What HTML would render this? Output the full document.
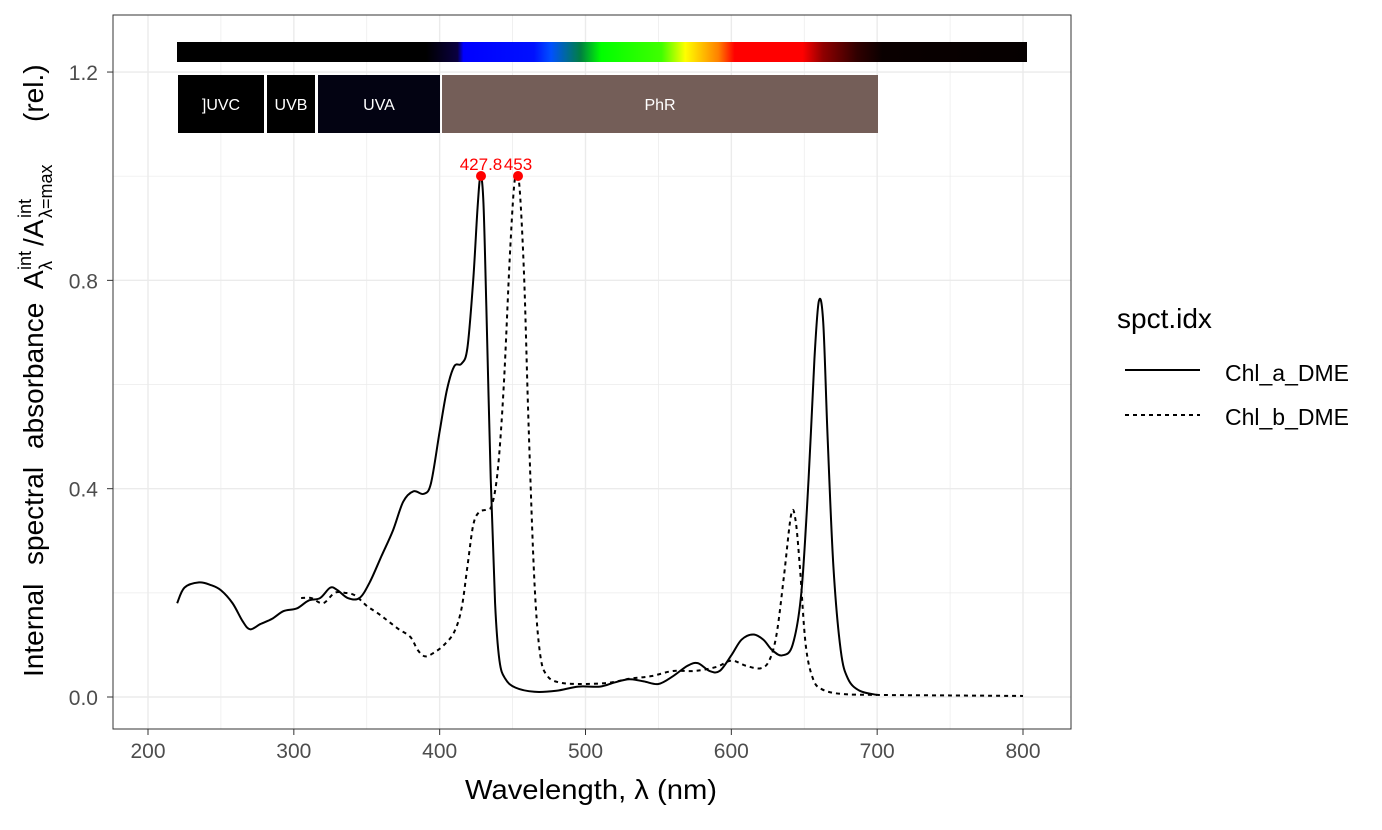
<!DOCTYPE html>
<html><head><meta charset="utf-8"><style>
body{margin:0;background:#fff}
svg text{font-family:"Liberation Sans",Arial,sans-serif}
</style></head><body>
<svg id="s" width="1382" height="825" xmlns="http://www.w3.org/2000/svg">
<defs>
<linearGradient id="spec" x1="177" x2="1027" gradientUnits="userSpaceOnUse">
<stop offset="0" stop-color="#000"/>
<stop offset="0.293" stop-color="#000"/>
<stop offset="0.33" stop-color="#0a0040"/>
<stop offset="0.337" stop-color="#0000ff"/>
<stop offset="0.42" stop-color="#0010ff"/>
<stop offset="0.44" stop-color="#0050ff"/>
<stop offset="0.475" stop-color="#008040"/>
<stop offset="0.499" stop-color="#00ff00"/>
<stop offset="0.57" stop-color="#40ff00"/>
<stop offset="0.598" stop-color="#ffff00"/>
<stop offset="0.637" stop-color="#ff8000"/>
<stop offset="0.656" stop-color="#ff0000"/>
<stop offset="0.736" stop-color="#ff0000"/>
<stop offset="0.76" stop-color="#900000"/>
<stop offset="0.80" stop-color="#300000"/>
<stop offset="0.83" stop-color="#0a0000"/>
<stop offset="1" stop-color="#050000"/>
</linearGradient>
</defs>
<rect x="113" y="15" width="958" height="714" fill="#fff"/>
<g id="grid"></g>
<rect x="177" y="42" width="850" height="20" fill="url(#spec)"/>
<rect x="178" y="75" width="86" height="58" fill="#000"/>
<rect x="267" y="75" width="48" height="58" fill="#000"/>
<rect x="318" y="75" width="122" height="58" fill="#030312"/>
<rect x="442" y="75" width="436" height="58" fill="#745e58"/>
<g fill="#fff" font-size="16" text-anchor="middle">
<text x="221" y="110">]UVC</text><text x="291" y="110">UVB</text><text x="379" y="110">UVA</text><text x="660" y="110">PhR</text>
</g>
<path id="a" fill="none" stroke="#000" stroke-width="2"/>
<path id="b" fill="none" stroke="#000" stroke-width="2" stroke-dasharray="4,4"/>
<circle cx="481" cy="176" r="5" fill="#f00"/>
<circle cx="518" cy="176" r="5" fill="#f00"/>
<text x="481" y="170" fill="#f00" font-size="17" text-anchor="middle">427.8</text>
<text x="518" y="170" fill="#f00" font-size="17" text-anchor="middle">453</text>
<rect x="113" y="15" width="958" height="714" fill="none" stroke="#333" stroke-width="1"/>
<g id="ticks" font-size="21" fill="#4d4d4d"></g>
<text x="591" y="799" font-size="28" text-anchor="middle" textLength="252" lengthAdjust="spacingAndGlyphs">Wavelength, λ (nm)</text>
<g font-size="28">
<text transform="translate(43,677) rotate(-90)">Internal</text>
<text transform="translate(43,565) rotate(-90)">spectral</text>
<text transform="translate(43,449) rotate(-90)">absorbance</text>
<text transform="translate(43,289) rotate(-90)">A</text>
<text transform="translate(43,246) rotate(-90)">/A</text>
<text transform="translate(43,122) rotate(-90)">(rel.)</text>
</g>
<g font-size="18">
<text transform="translate(31,270) rotate(-90)">int</text>
<text transform="translate(52,270) rotate(-90)">λ</text>
<text transform="translate(31,218) rotate(-90)">int</text>
<text transform="translate(52,218) rotate(-90)">λ=max</text>
</g>
<text x="1117" y="328" font-size="28">spct.idx</text>
<line x1="1125" y1="370" x2="1200" y2="370" stroke="#000" stroke-width="2"/>
<line x1="1125" y1="415" x2="1200" y2="415" stroke="#000" stroke-width="2" stroke-dasharray="4,4"/>
<text x="1225" y="381" font-size="23">Chl_a_DME</text>
<text x="1225" y="425" font-size="23">Chl_b_DME</text>
</svg>
<script>
const X=l=>148+(l-200)*875/600, Y=v=>697-v*520.8;
let g='',t='';
for(let l=200;l<=800;l+=50){const x=X(l);g+=`<line x1="${x}" y1="15" x2="${x}" y2="729" stroke="#ebebeb" stroke-width="${l%100?0.7:1.4}"/>`;
 if(l%100==0){t+=`<line x1="${x}" y1="729" x2="${x}" y2="735" stroke="#333"/><text x="${x}" y="758" text-anchor="middle">${l}</text>`;}}
for(let i=0;i<=6;i++){const v=i*0.2,y=Y(v);g+=`<line x1="113" y1="${y}" x2="1071" y2="${y}" stroke="#ebebeb" stroke-width="${i%2?0.7:1.4}"/>`;
 if(i%2==0){t+=`<line x1="107" y1="${y}" x2="113" y2="${y}" stroke="#333"/><text x="98" y="${y+8}" text-anchor="end">${v.toFixed(1)}</text>`;}}
document.getElementById('grid').innerHTML=g;document.getElementById('ticks').innerHTML=t;
function path(p){const q=p.map(([l,v])=>[X(l),Y(v)]);let d=`M${q[0][0]},${q[0][1]}`;
 for(let i=0;i<q.length-1;i++){const p0=q[Math.max(i-1,0)],p1=q[i],p2=q[i+1],p3=q[Math.min(i+2,q.length-1)];
 const k=1/6;d+=`C${p1[0]+(p2[0]-p0[0])*k},${p1[1]+(p2[1]-p0[1])*k} ${p2[0]-(p3[0]-p1[0])*k},${p2[1]-(p3[1]-p1[1])*k} ${p2[0]},${p2[1]}`;}return d;}
const A=[[220,0.18],[225,0.21],[235,0.22],[243,0.215],[250,0.205],[258,0.18],[265,0.145],[270,0.13],[277,0.14],[285,0.15],[293,0.165],[302,0.17],[310,0.185],[318,0.19],[325,0.21],[330,0.205],[337,0.19],[345,0.19],[352,0.22],[360,0.27],[368,0.32],[375,0.375],[382,0.395],[389,0.39],[394,0.41],[400,0.51],[405,0.59],[410,0.635],[415,0.64],[419,0.67],[423,0.8],[426,0.94],[428,1.0],[430,0.95],[432,0.75],[435,0.42],[438,0.18],[441,0.07],[445,0.035],[452,0.018],[465,0.01],[480,0.012],[495,0.02],[510,0.02],[520,0.028],[530,0.034],[540,0.03],[550,0.025],[560,0.04],[570,0.06],[577,0.065],[585,0.05],[592,0.05],[600,0.08],[607,0.11],[615,0.12],[622,0.11],[628,0.09],[635,0.08],[642,0.1],[648,0.2],[653,0.42],[657,0.65],[660,0.76],[663,0.72],[666,0.5],[670,0.25],[675,0.09],[680,0.035],[688,0.012],[700,0.004]];
const B=[[305,0.19],[312,0.19],[320,0.18],[328,0.2],[335,0.2],[342,0.195],[350,0.175],[358,0.16],[365,0.145],[372,0.13],[380,0.115],[385,0.09],[390,0.078],[396,0.085],[403,0.1],[410,0.125],[415,0.17],[419,0.25],[423,0.33],[427,0.355],[432,0.36],[436,0.37],[440,0.44],[444,0.6],[448,0.84],[451,0.98],[453,1.0],[455,0.97],[458,0.8],[461,0.52],[465,0.22],[469,0.08],[474,0.04],[482,0.028],[495,0.025],[515,0.027],[530,0.035],[545,0.04],[560,0.05],[575,0.05],[590,0.058],[600,0.07],[610,0.06],[620,0.055],[626,0.07],[631,0.12],[636,0.23],[641,0.35],[644,0.34],[647,0.25],[651,0.1],[656,0.035],[662,0.015],[675,0.006],[700,0.004],[750,0.003],[800,0.002]];
document.getElementById('a').setAttribute('d',path(A));document.getElementById('b').setAttribute('d',path(B));
</script>
</body></html>
